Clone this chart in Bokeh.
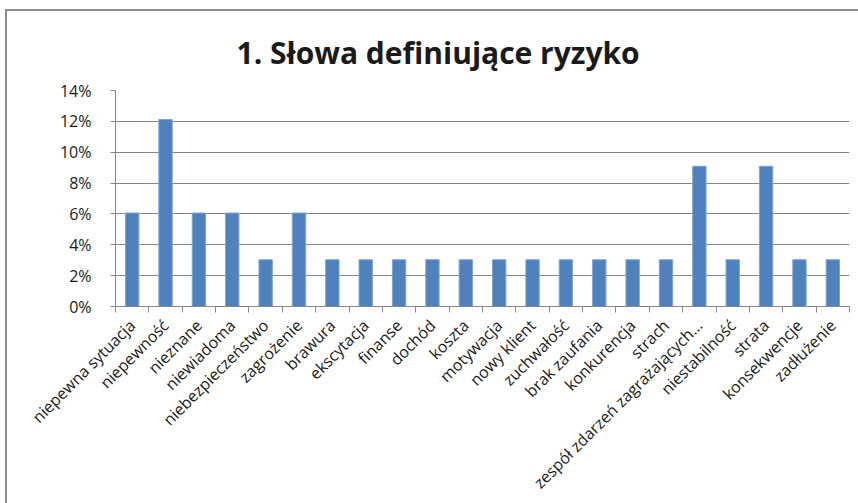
import numpy as np
from bokeh.plotting import figure
from bokeh.models import FixedTicker, NumeralTickFormatter, ColumnDataSource, Range1d, Title
from bokeh.embed import file_html
from bokeh.resources import INLINE

categories = ["niepewna sytuacja", "niepewność", "nieznane", "niewiadoma",
              "niebezpieczeństwo", "zagrożenie", "brawura", "ekscytacja",
              "finanse", "dochód", "koszta", "motywacja", "nowy klient",
              "zuchwałość", "brak zaufania", "konkurencja", "strach",
              "zespół zdarzeń zagrażających…", "niestabilność", "strata",
              "konsekwencje", "zadłużenie"]
values = [0.0606, 0.1212, 0.0606, 0.0606, 0.0303, 0.0606, 0.0303, 0.0303,
          0.0303, 0.0303, 0.0303, 0.0303, 0.0303, 0.0303, 0.0303, 0.0303,
          0.0303, 0.0909, 0.0303, 0.0909, 0.0303, 0.0303]
y_ticks = [0, 0.02, 0.04, 0.06, 0.08, 0.10, 0.12, 0.14]

n = len(categories)
xc = np.arange(n) + 0.5
src = ColumnDataSource(dict(x=xc, top=values))

FONT = "Open Sans"
GRAY = "#868686"
W, H = 858, 503

p = figure(width=W, height=H, output_backend="svg", toolbar_location=None,
           x_range=Range1d(0, n), y_range=Range1d(0, 0.14),
           min_border_left=115, min_border_right=W - 849, min_border_top=90,
           min_border_bottom=H - 307)
p.title = None
t = Title(text="1. Słowa definiujące ryzyko", align="left", offset=121,
          text_font=FONT, text_font_size="30px", text_font_style="bold",
          text_color="#1a1a1a", standoff=36)
p.add_layout(t, "above")

p.vbar(x="x", top="top", width=0.4, source=src, color="#4F81BD",
       line_color="#7FA3D0", line_width=1)

# x axis
xa = p.xaxis[0]
xa.ticker = FixedTicker(ticks=list(xc), minor_ticks=list(range(n + 1)))
xa.major_label_overrides = {float(x): c for x, c in zip(xc, categories)}
xa.major_tick_out = 0
xa.major_tick_in = 0
xa.minor_tick_out = 6
xa.minor_tick_in = 0
xa.minor_tick_line_color = GRAY
xa.axis_line_color = GRAY
xa.major_label_orientation = np.pi / 4
xa.major_label_text_font = FONT
xa.major_label_text_font_size = "16px"
xa.major_label_text_color = "#1a1a1a"
xa.major_label_standoff = 10

# y axis
ya = p.yaxis[0]
ya.ticker = FixedTicker(ticks=y_ticks)
ya.formatter = NumeralTickFormatter(format="0%")
ya.minor_tick_line_color = None
ya.major_tick_out = 5
ya.major_tick_in = 0
ya.major_tick_line_color = GRAY
ya.axis_line_color = GRAY
ya.major_label_text_font = FONT
ya.major_label_text_font_size = "16px"
ya.major_label_text_color = "#1a1a1a"
ya.major_label_standoff = 19

p.xgrid.grid_line_color = None
p.ygrid.grid_line_color = GRAY
p.ygrid.ticker = FixedTicker(ticks=y_ticks)
p.outline_line_color = None
p.background_fill_color = "white"
p.border_fill_color = None
p.styles = {
    "background": ("linear-gradient(#8c8c8c, #8c8c8c) 5px 9px / 2px 100% no-repeat, "
                   "linear-gradient(#8c8c8c, #8c8c8c) 5px 9px / 100% 2px no-repeat, white"),
}

open("out.html", "w").write(file_html(p, INLINE))
